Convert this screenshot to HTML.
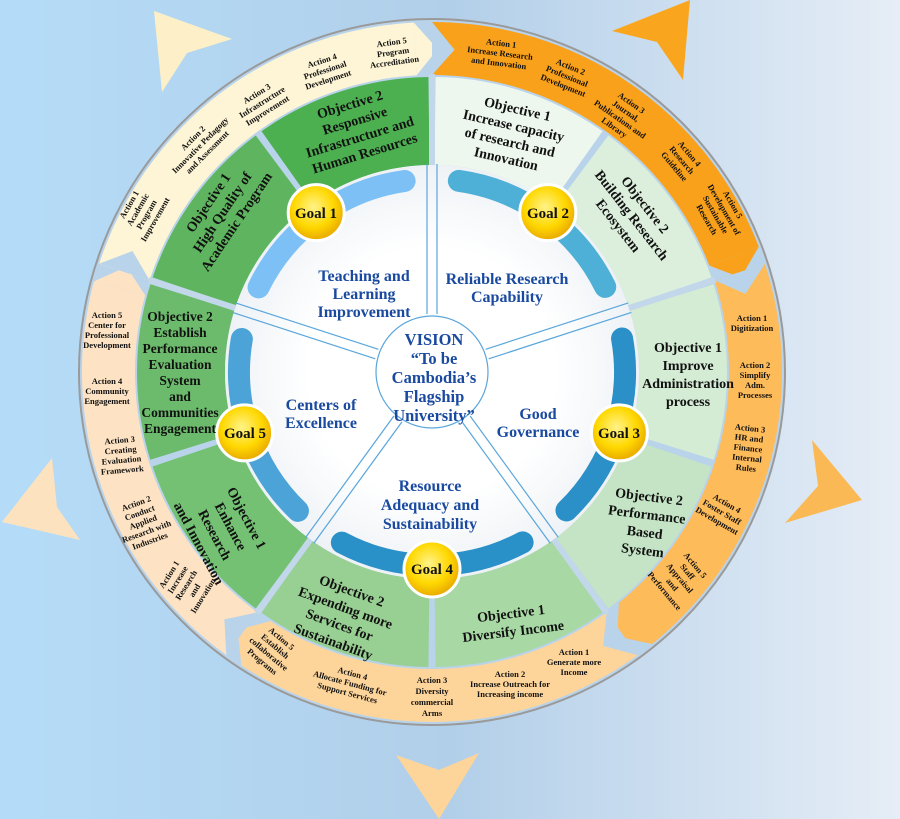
<!DOCTYPE html>
<html><head><meta charset="utf-8"><style>
html,body{margin:0;padding:0;}
body{width:900px;height:819px;overflow:hidden;background:linear-gradient(90deg,#b4dcf8 0%,#b2cfe9 50%,#e6edf6 100%);}
svg{display:block;}
text{font-family:"Liberation Serif",serif;font-weight:bold;}
.a{font-size:8.5px;fill:#111;}
.o{font-size:14px;fill:#111;}
.t{font-size:16px;fill:#1a4aa0;}
.g{font-size:15px;fill:#111;}
</style></head><body>
<svg width="900" height="819" viewBox="0 0 900 819" xmlns="http://www.w3.org/2000/svg">
<defs>
<radialGradient id="yg" cx="45%" cy="40%" r="60%"><stop offset="0" stop-color="#fff38a"/><stop offset="0.6" stop-color="#ffd800"/><stop offset="1" stop-color="#e8a800"/></radialGradient>
<radialGradient id="wg" cx="50%" cy="50%" r="50%"><stop offset="0.6" stop-color="#ffffff"/><stop offset="1" stop-color="#eef2f6"/></radialGradient>
</defs>
<polygon points="154,11 232,39 187,53 162,92" fill="#fdf0c8"/>
<polygon points="690,0 683,80 657,42 612,31" fill="#f9a61e"/>
<polygon points="812,440 862,500 785,523 818,486" fill="#fbb955"/>
<polygon points="52,458 57,507 80,540 2,522" fill="#fde2bf"/>
<polygon points="396,755 439,770 479,753 439,819" fill="#fdd49a"/>
<circle cx="432" cy="372" r="353" fill="#b9d3ea" stroke="#9a9a9a" stroke-width="2"/>
<g fill="none" stroke-width="53">
<circle cx="432" cy="372" r="323.5" stroke="#fdf5d5" stroke-dasharray="389.6 3000" transform="rotate(198 432 372)"/>
<circle cx="432" cy="372" r="323.5" stroke="#f9a11b" stroke-dasharray="389.6 3000" transform="rotate(270 432 372)"/>
<circle cx="432" cy="372" r="323.5" stroke="#fdbb5a" stroke-dasharray="389.6 3000" transform="rotate(342 432 372)"/>
<circle cx="432" cy="372" r="323.5" stroke="#fdd59b" stroke-dasharray="389.6 3000" transform="rotate(54 432 372)"/>
<circle cx="432" cy="372" r="323.5" stroke="#fde3c3" stroke-dasharray="389.6 3000" transform="rotate(126 432 372)"/>
</g>
<polygon points="416.5,75.4 413.7,22.5 437.7,49.1" fill="#fdf5d5"/>
<polygon points="709.3,265.6 758.8,246.6 740.9,277.6" fill="#f9a11b"/>
<polygon points="618.9,602.8 652.3,644 617.3,636.6" fill="#fdbb5a"/>
<polygon points="270.3,621.1 241.4,665.5 237.6,630" fill="#fdd59b"/>
<polygon points="145.1,295.1 93.9,281.4 126.6,266.8" fill="#fde3c3"/>
<polygon points="432,75 432,22 454.5,49.8" fill="#b9d3ea"/>
<polygon points="714.5,280.2 764.9,263.8 745.4,293.9" fill="#b9d3ea"/>
<polygon points="606.6,612.3 637.7,655.2 603.2,645.9" fill="#b9d3ea"/>
<polygon points="257.4,612.3 226.3,655.2 224.4,619.4" fill="#b9d3ea"/>
<polygon points="149.5,280.2 99.1,263.8 132.5,251" fill="#b9d3ea"/>
<g fill="none" stroke-width="88">
<circle cx="432" cy="372" r="251" stroke="#5fb55f" stroke-dasharray="151.6 3000" transform="rotate(198.7 432 372)"/>
<circle cx="432" cy="372" r="251" stroke="#4caf50" stroke-dasharray="151.6 3000" transform="rotate(234.7 432 372)"/>
<circle cx="432" cy="372" r="251" stroke="#eef7ee" stroke-dasharray="151.6 3000" transform="rotate(270.7 432 372)"/>
<circle cx="432" cy="372" r="251" stroke="#dcefdc" stroke-dasharray="151.6 3000" transform="rotate(306.7 432 372)"/>
<circle cx="432" cy="372" r="251" stroke="#d4ebd4" stroke-dasharray="151.6 3000" transform="rotate(342.7 432 372)"/>
<circle cx="432" cy="372" r="251" stroke="#c5e4c5" stroke-dasharray="151.6 3000" transform="rotate(18.7 432 372)"/>
<circle cx="432" cy="372" r="251" stroke="#a8d8a4" stroke-dasharray="151.6 3000" transform="rotate(54.7 432 372)"/>
<circle cx="432" cy="372" r="251" stroke="#98cf92" stroke-dasharray="151.6 3000" transform="rotate(90.7 432 372)"/>
<circle cx="432" cy="372" r="251" stroke="#74c174" stroke-dasharray="151.6 3000" transform="rotate(126.7 432 372)"/>
<circle cx="432" cy="372" r="251" stroke="#6cbb6c" stroke-dasharray="151.6 3000" transform="rotate(162.7 432 372)"/>
</g>
<circle cx="432" cy="372" r="207" fill="url(#wg)"/>
<g fill="none" stroke-width="22" stroke-linecap="round">
<circle cx="432" cy="372" r="193" stroke="#7cc0f5" stroke-dasharray="188 3000" transform="rotate(206 432 372)"/>
<circle cx="432" cy="372" r="193" stroke="#4eb0d6" stroke-dasharray="188 3000" transform="rotate(278 432 372)"/>
<circle cx="432" cy="372" r="193" stroke="#2b8fc8" stroke-dasharray="188 3000" transform="rotate(350 432 372)"/>
<circle cx="432" cy="372" r="193" stroke="#2a90c8" stroke-dasharray="188 3000" transform="rotate(62 432 372)"/>
<circle cx="432" cy="372" r="193" stroke="#4ca3d8" stroke-dasharray="188 3000" transform="rotate(134 432 372)"/>
</g>
<g stroke="#5aa6dc" stroke-width="1.2" fill="none">
<g transform="translate(432,372) rotate(-90)"><line x1="58" y1="-5" x2="208" y2="-5"/><line x1="58" y1="5" x2="208" y2="5"/></g>
<g transform="translate(432,372) rotate(-18)"><line x1="58" y1="-5" x2="208" y2="-5"/><line x1="58" y1="5" x2="208" y2="5"/></g>
<g transform="translate(432,372) rotate(54)"><line x1="58" y1="-5" x2="208" y2="-5"/><line x1="58" y1="5" x2="208" y2="5"/></g>
<g transform="translate(432,372) rotate(126)"><line x1="58" y1="-5" x2="208" y2="-5"/><line x1="58" y1="5" x2="208" y2="5"/></g>
<g transform="translate(432,372) rotate(198)"><line x1="58" y1="-5" x2="208" y2="-5"/><line x1="58" y1="5" x2="208" y2="5"/></g>
<circle cx="432" cy="372" r="56"/>
</g>
<g stroke="#c3d7eb" stroke-width="6">
<g transform="translate(432,372) rotate(-90)"><line x1="207" y1="0" x2="298" y2="0"/></g>
<g transform="translate(432,372) rotate(-18)"><line x1="207" y1="0" x2="298" y2="0"/></g>
<g transform="translate(432,372) rotate(54)"><line x1="207" y1="0" x2="298" y2="0"/></g>
<g transform="translate(432,372) rotate(126)"><line x1="207" y1="0" x2="298" y2="0"/></g>
<g transform="translate(432,372) rotate(198)"><line x1="207" y1="0" x2="298" y2="0"/></g>
</g>
<g stroke="#ffffff" stroke-width="3" fill="url(#yg)">
<circle cx="316.2" cy="212.6" r="28"/>
<circle cx="547.8" cy="212.6" r="28"/>
<circle cx="619.4" cy="432.9" r="28"/>
<circle cx="432" cy="569" r="28"/>
<circle cx="244.6" cy="432.9" r="28"/>
</g>
<g class="g" text-anchor="middle">
<text x="316" y="218" class="g">Goal 1</text>
<text x="548" y="218" class="g">Goal 2</text>
<text x="619" y="438" class="g">Goal 3</text>
<text x="432" y="574" class="g">Goal 4</text>
<text x="245" y="438" class="g">Goal 5</text>
</g>
<g text-anchor="middle" class="t">
<text class="t" x="364" y="281"><tspan x="364">Teaching and</tspan><tspan x="364" dy="18">Learning</tspan><tspan x="364" dy="18">Improvement</tspan></text>
<text class="t" x="507" y="284"><tspan x="507">Reliable Research</tspan><tspan x="507" dy="18">Capability</tspan></text>
<text class="t" x="538" y="419"><tspan x="538">Good</tspan><tspan x="538" dy="18">Governance</tspan></text>
<text class="t" x="321" y="410"><tspan x="321">Centers of</tspan><tspan x="321" dy="18">Excellence</tspan></text>
<text class="t" x="430" y="491"><tspan x="430">Resource</tspan><tspan x="430" dy="19">Adequacy and</tspan><tspan x="430" dy="19">Sustainability</tspan></text>
<text class="t" x="434" y="345" style="font-size:16.5px"><tspan x="434">VISION</tspan><tspan x="434" dy="19">“To be</tspan><tspan x="434" dy="19">Cambodia’s</tspan><tspan x="434" dy="19">Flagship</tspan><tspan x="434" dy="19">University”</tspan></text>
</g>
<g text-anchor="middle">
<g transform="translate(222,212) rotate(-56)"><text class="o" y="-12"><tspan x="0">Objective 1</tspan><tspan x="0" dy="17">High Quality of</tspan><tspan x="0" dy="17">Academic Program</tspan></text></g>
<g transform="translate(357,128) rotate(-17)"><text class="o" y="-20"><tspan x="0">Objective 2</tspan><tspan x="0" dy="17">Responsive</tspan><tspan x="0" dy="17">Infrastructure and</tspan><tspan x="0" dy="17">Human Resources</tspan></text></g>
<g transform="translate(512,133) rotate(13)"><text class="o" y="-20"><tspan x="0">Objective 1</tspan><tspan x="0" dy="17">Increase capacity</tspan><tspan x="0" dy="17">of research and</tspan><tspan x="0" dy="17">Innovation</tspan></text></g>
<g transform="translate(632,215) rotate(52)"><text class="o" y="-12"><tspan x="0">Objective 2</tspan><tspan x="0" dy="17">Building Research</tspan><tspan x="0" dy="17">Ecosystem</tspan></text></g>
<g transform="translate(688,372)"><text class="o" y="-20"><tspan x="0">Objective 1</tspan><tspan x="0" dy="18">Improve</tspan><tspan x="0" dy="18">Administration</tspan><tspan x="0" dy="18">process</tspan></text></g>
<g transform="translate(646,522) rotate(7)"><text class="o" y="-21"><tspan x="0">Objective 2</tspan><tspan x="0" dy="18">Performance</tspan><tspan x="0" dy="18">Based</tspan><tspan x="0" dy="18">System</tspan></text></g>
<g transform="translate(512,622) rotate(-7)"><text class="o" y="-4"><tspan x="0">Objective 1</tspan><tspan x="0" dy="18">Diversify Income</tspan></text></g>
<g transform="translate(343,615) rotate(20)"><text class="o" y="-21"><tspan x="0">Objective 2</tspan><tspan x="0" dy="18">Expending more</tspan><tspan x="0" dy="18">Services for</tspan><tspan x="0" dy="18">Sustainability</tspan></text></g>
<g transform="translate(224,530) rotate(62)"><text class="o" y="-21"><tspan x="0">Objective 1</tspan><tspan x="0" dy="18">Enhance</tspan><tspan x="0" dy="18">Research</tspan><tspan x="0" dy="18">and Innovation</tspan></text></g>
<g transform="translate(180,372)"><text class="o" y="-51" style="font-size:13.5px"><tspan x="0">Objective 2</tspan><tspan x="0" dy="16">Establish</tspan><tspan x="0" dy="16">Performance</tspan><tspan x="0" dy="16">Evaluation</tspan><tspan x="0" dy="16">System</tspan><tspan x="0" dy="16">and</tspan><tspan x="0" dy="16">Communities</tspan><tspan x="0" dy="16">Engagement</tspan></text></g>
</g>
<g text-anchor="middle">
<g transform="translate(142,212) rotate(-60)"><text class="a" y="-12"><tspan x="0">Action 1</tspan><tspan x="0" dy="10">Academic</tspan><tspan x="0" dy="10">Program</tspan><tspan x="0" dy="10">Improvement</tspan></text></g>
<g transform="translate(200,145) rotate(-45)"><text class="a" y="-7"><tspan x="0">Action 2</tspan><tspan x="0" dy="10">Innovative Pedagogy</tspan><tspan x="0" dy="10">and Assessment</tspan></text></g>
<g transform="translate(262,102) rotate(-32)"><text class="a" y="-7"><tspan x="0">Action 3</tspan><tspan x="0" dy="10">Infrastructure</tspan><tspan x="0" dy="10">Improvement</tspan></text></g>
<g transform="translate(325,70) rotate(-18)"><text class="a" y="-7"><tspan x="0">Action 4</tspan><tspan x="0" dy="10">Professional</tspan><tspan x="0" dy="10">Development</tspan></text></g>
<g transform="translate(393,52) rotate(-8)"><text class="a" y="-7"><tspan x="0">Action 5</tspan><tspan x="0" dy="10">Program</tspan><tspan x="0" dy="10">Accreditation</tspan></text></g>
<g transform="translate(500,53) rotate(7)"><text class="a" y="-7"><tspan x="0">Action 1</tspan><tspan x="0" dy="10">Increase Research</tspan><tspan x="0" dy="10">and Innovation</tspan></text></g>
<g transform="translate(567,76) rotate(22)"><text class="a" y="-7"><tspan x="0">Action 2</tspan><tspan x="0" dy="10">Professional</tspan><tspan x="0" dy="10">Development</tspan></text></g>
<g transform="translate(623,115) rotate(35)"><text class="a" y="-12"><tspan x="0">Action 3</tspan><tspan x="0" dy="10">Journal,</tspan><tspan x="0" dy="10">Publications and</tspan><tspan x="0" dy="10">Library</tspan></text></g>
<g transform="translate(682,160) rotate(50)"><text class="a" y="-7"><tspan x="0">Action 4</tspan><tspan x="0" dy="10">Research</tspan><tspan x="0" dy="10">Guideline</tspan></text></g>
<g transform="translate(720,212) rotate(60)"><text class="a" y="-12"><tspan x="0">Action 5</tspan><tspan x="0" dy="10">Development of</tspan><tspan x="0" dy="10">Sustainable</tspan><tspan x="0" dy="10">Research</tspan></text></g>
<g transform="translate(752,323)"><text class="a" y="-2"><tspan x="0">Action 1</tspan><tspan x="0" dy="10">Digitization</tspan></text></g>
<g transform="translate(755,380)"><text class="a" y="-12"><tspan x="0">Action 2</tspan><tspan x="0" dy="10">Simplify</tspan><tspan x="0" dy="10">Adm.</tspan><tspan x="0" dy="10">Processes</tspan></text></g>
<g transform="translate(748,448) rotate(6)"><text class="a" y="-17"><tspan x="0">Action 3</tspan><tspan x="0" dy="10">HR and</tspan><tspan x="0" dy="10">Finance</tspan><tspan x="0" dy="10">Internal</tspan><tspan x="0" dy="10">Rules</tspan></text></g>
<g transform="translate(722,512) rotate(30)"><text class="a" y="-7"><tspan x="0">Action 4</tspan><tspan x="0" dy="10">Foster Staff</tspan><tspan x="0" dy="10">Development</tspan></text></g>
<g transform="translate(680,578) rotate(50)"><text class="a" y="-17"><tspan x="0">Action 5</tspan><tspan x="0" dy="10">Staff</tspan><tspan x="0" dy="10">Appraisal</tspan><tspan x="0" dy="10">and</tspan><tspan x="0" dy="10">Performance</tspan></text></g>
<g transform="translate(574,662)"><text class="a" y="-7"><tspan x="0">Action 1</tspan><tspan x="0" dy="10">Generate more</tspan><tspan x="0" dy="10">Income</tspan></text></g>
<g transform="translate(510,684)"><text class="a" y="-7"><tspan x="0">Action 2</tspan><tspan x="0" dy="10">Increase Outreach for</tspan><tspan x="0" dy="10">Increasing income</tspan></text></g>
<g transform="translate(432,695)"><text class="a" y="-12"><tspan x="0">Action 3</tspan><tspan x="0" dy="11">Diversity</tspan><tspan x="0" dy="11">commercial</tspan><tspan x="0" dy="11">Arms</tspan></text></g>
<g transform="translate(350,683) rotate(15)"><text class="a" y="-7"><tspan x="0">Action 4</tspan><tspan x="0" dy="10">Allocate Funding for</tspan><tspan x="0" dy="10">Support Services</tspan></text></g>
<g transform="translate(272,650) rotate(40)"><text class="a" y="-12"><tspan x="0">Action 5</tspan><tspan x="0" dy="10">Establish</tspan><tspan x="0" dy="10">collaborative</tspan><tspan x="0" dy="10">Programs</tspan></text></g>
<g transform="translate(186,585) rotate(-58)"><text class="a" y="-17"><tspan x="0">Action 1</tspan><tspan x="0" dy="10">Increase</tspan><tspan x="0" dy="10">Research</tspan><tspan x="0" dy="10">and</tspan><tspan x="0" dy="10">Innovation</tspan></text></g>
<g transform="translate(143,522) rotate(-20)"><text class="a" y="-17"><tspan x="0">Action 2</tspan><tspan x="0" dy="10">Conduct</tspan><tspan x="0" dy="10">Applied</tspan><tspan x="0" dy="10">Research with</tspan><tspan x="0" dy="10">Industries</tspan></text></g>
<g transform="translate(121,455) rotate(-5)"><text class="a" y="-12"><tspan x="0">Action 3</tspan><tspan x="0" dy="10">Creating</tspan><tspan x="0" dy="10">Evaluation</tspan><tspan x="0" dy="10">Framework</tspan></text></g>
<g transform="translate(107,391)"><text class="a" y="-7"><tspan x="0">Action 4</tspan><tspan x="0" dy="10">Community</tspan><tspan x="0" dy="10">Engagement</tspan></text></g>
<g transform="translate(107,330)"><text class="a" y="-12"><tspan x="0">Action 5</tspan><tspan x="0" dy="10">Center for</tspan><tspan x="0" dy="10">Professional</tspan><tspan x="0" dy="10">Development</tspan></text></g>
</g>
</svg>
</body></html>
